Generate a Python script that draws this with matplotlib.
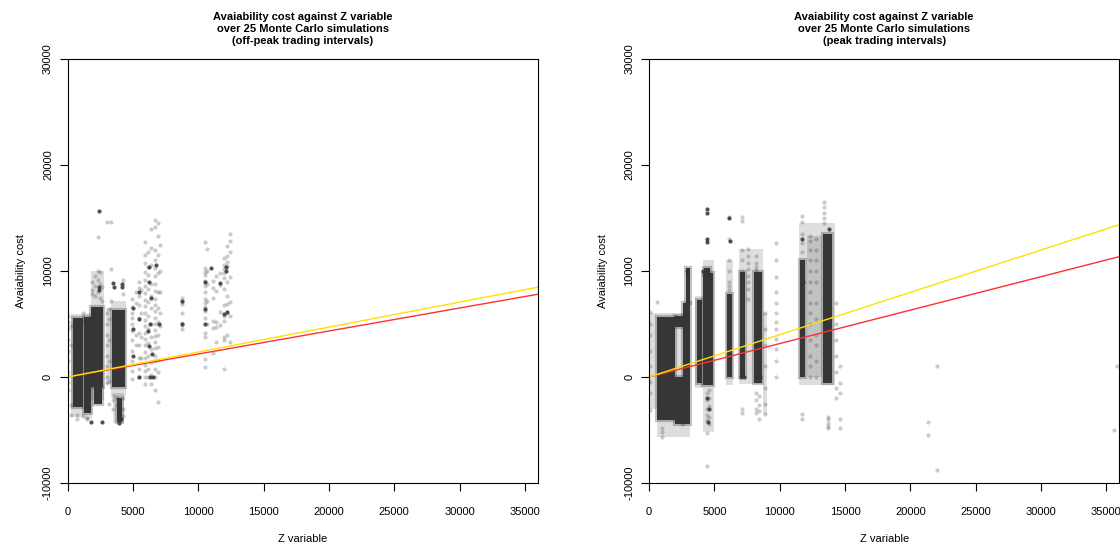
import numpy as np
import matplotlib.pyplot as plt
plt.rcParams['font.family'] = ['Liberation Sans', 'DejaVu Sans']
plt.rcParams.update({'font.size': 8})

titles = ['Avaiability cost against Z variable\nover 25 Monte Carlo simulations\n(off-peak trading intervals)',
          'Avaiability cost against Z variable\nover 25 Monte Carlo simulations\n(peak trading intervals)']
x_ticks = [0, 5000, 10000, 15000, 20000, 25000, 30000, 35000]
y_ticks = [-10000, 0, 10000, 20000, 30000]

# fitted lines: (intercept, slope) for red and yellow fits
left_fit_red = (0, 0.217)
left_fit_yellow = (0, 0.2355)
right_fit_red = (0, 0.3156)
right_fit_yellow = (0, 0.3995)

# dense blocks of overplotted points: x_lo, x_hi, y_lo, y_hi
left_dense = [(420, 1180, -2800, 5600), (1280, 1760, -3400, 5700), (1820, 2740, -900, 6600),
              (2000, 2600, -2500, -900), (3380, 4400, -900, 6300), (3750, 4150, -4200, -2000)]
left_haze = [(300, 1250, -3800, 5900), (1250, 1850, -4000, 6000), (1800, 2800, -2200, 10000),
             (2950, 3300, -700, 6500), (3300, 4500, -1800, 7200), (3500, 4300, -4300, -1500)]
right_dense = [(590, 1990, -4100, 5700), (1990, 2600, 4700, 5800), (1990, 2600, -4400, 0),
               (2600, 3140, -4400, 7000), (2850, 3140, 7000, 10300),
               (3650, 4030, -600, 7300), (4130, 4900, -800, 9800), (4200, 4700, 9600, 10300),
               (5960, 6350, 0, 7800), (6960, 7340, 0, 9900), (8030, 8650, -600, 9900),
               (11550, 11930, 0, 11000), (13300, 14000, -600, 13500)]
right_haze = [(0, 590, -3000, 6000), (590, 3140, -5700, 6000), (3500, 4100, -1000, 7600),
              (4100, 5000, -5200, 11000), (5900, 6400, -800, 11000), (6900, 8700, -700, 12100),
              (8700, 9050, -3500, 6000), (11500, 14200, -800, 14500), (12090, 13230, 0, 13300)]

# scattered points: column x, list of y
left_sparse = [
    (60, [5800, 5200, 4500, 3500, 2500, 1500, 500, -500, -1200]),
    (300, [4800, 3000, -2600, -3600]), (700, [-3600, -4000]), (1200, [-3700, 6000, 5300]),
    (1500, [-4000, -3900]), (1900, [7800, 8200, 9000]), (2100, [7600, 8600, 9500]),
    (2300, [8000, 9200, 10000, 13200]), (2450, [7500, 8800, 9900]), (2600, [7200, 8500]),
    (3000, [14600, 6000, 5000, 4000, 3000, 2000, 1000, 0, -600]),
    (3150, [6400, 5500, 3500, 1500, -400, -2500]), (3300, [14600, 10200, 7200]),
    (3500, [-1800, -2200, -3000]), (3800, [-2000, -2600]), (4250, [-2000, -3000, -3700, 9200, 7800]),
    (4900, [7400, 6600, 6000, 5000, 4300, 3500, 2500, 1500, 600, -200, 5600]),
    (5250, [8000, 7000, 4000, 3000]),
    (5500, [9000, 8400, 7600, 6800, 5600, 4200, 3000, 1800, 800, 0]),
    (5650, [8200, 6000, 3800, 1800]),
    (5950, [12700, 11500, 10800, 9900, 9200, 8600, 7900, 7300, 6700, 6000, 5400, 4800, 4200,
            3600, 3000, 2400, 1800, 1100, 600, 0, -700]),
    (6150, [11800, 10400, 9600, 8300, 7100, 5800, 4500, 3200, 2000, 800, 0]),
    (6400, [14000, 12200, 10600, 8800, 7600, 6500, 5000, 3800, 2600, 1400, 200, -700]),
    (6700, [14800, 14200, 12000, 11000, 10300, 9500, 8800, 8100, 7400, 6800, 6200, 5600, 5000,
            4400, 3900, 3300, 2700, 2000, 1500, 800, 0, -1200]),
    (6900, [14500, 13300, 11500, 9800, 8000, 6500, 5200, 4000, 2800, 1600, 500, -2400]),
    (7050, [12500, 10000, 8000, 6000, 4800]),
    (8750, [7500, 7100, 6900, 6000, 5100, 4900, 4500]),
    (10500, [12700, 10300, 9900, 9600, 9100, 8600, 8000, 7400, 7000, 6600, 6200, 5600, 4200,
             3800, 1700, 900]),
    (10700, [12100, 10000, 8800, 7200, 5000]),
    (11100, [9100, 8400, 7500, 5300, 4600, 2300]), (11400, [9500, 8100, 5200, 4700, 3300]),
    (11700, [9800, 8700, 6100, 4900]),
    (12000, [11200, 10600, 10200, 9800, 9300, 8300, 6800, 5800, 5300, 3800, 3500, 800]),
    (12200, [12400, 11400, 10900, 10500, 9000, 7600, 6900, 6000, 4000]),
    (12450, [13500, 12800, 11800, 9400, 7100, 5800, 3300]),
]
left_dark_x = [2430, 2400, 2400, 1800, 2600, 3950, 4100, 3550, 3500, 4150, 4150, 5000, 5000, 5000,
               5450, 5450, 6200, 6200, 6400, 6300, 6200, 6500, 6300, 6550, 5450, 6800, 7000,
               10500, 10500, 10500, 12100, 12150, 11650, 12200, 12000, 11000, 8750, 8750, 6150]
left_dark_y = [15700, 8500, 8200, -4200, -4200, -4300, -4000, 8500, 8900, 8500, 8800, 6500, 4500, 2000,
               8000, 5500, 10400, 9000, 7500, 5000, 2900, 2200, 0, 0, 0, 10600, 5000,
               6400, 5000, 9000, 10400, 10000, 8900, 6100, 5900, 10300, 7200, 5000, 4300]

right_sparse = [
    (50, [6100, 5000, 4000, 2500, 1000, -500, -1500, -3100]), (600, [7100]),
    (1000, [-5700, -5200, -4800]), (4400, [-1500, -2200, -3000, -3600, -4100, -5300, -8400]),
    (4600, [-1200, -2000, -2700, -3800, -4400]),
    (6150, [15100, 13000, 11000, 10000, 9000, 8600, 8200]),
    (7100, [15100, 14700, 12000, 11000, 10000, -3000, -3400]),
    (7600, [12100, 11400, 10800, 10200, 9500, 9000, 8300, 7400]),
    (8200, [11400, 10800, 10400, 10100, -1500, -2200, -3400, -3000]),
    (8400, [-1800, -2600, -4000, -3200]),
    (8900, [6000, 4500, 3000, 1000, -1000, -2500, -3500]),
    (9700, [12600, 11000, 9400, 8000, 7000, 6000, 5200, 4500, 3600, 2600, 1500, 0]),
    (11700, [15200, 14600, 13500, 12600, 11800, -4000, -3500]),
    (12300, [13300, 12800, 12000, 11000, 10000, 9000, 8000, 7000, 6000, 5000, 3500, 2000, 1000, 0]),
    (12800, [13000, 12000, 11000, 10000, 9000, 7000, 5500, 4000, 3000, 1500, 0]),
    (13400, [16500, 16000, 15500, 15000, 14500]),
    (13700, [-4000, -4300, -4600, -4800, -3800]),
    (14300, [7000, 5000, 3500, 2000, 500, -1000, -2000]),
    (14600, [-4000, -4800, -600, -1500, 1000]),
    (21370, [-4290, -5490]), (22060, [1020, -8800]), (35550, [-5010]), (35800, [1020]),
]
right_dark_x = [2900, 4150, 4450, 4450, 4450, 4450, 4400, 4600, 4500, 7000, 7300, 8300, 8500,
                11700, 11800, 13500, 13800, 13600, 6100, 6200]
right_dark_y = [10000, 10000, 15900, 15500, 13000, 12700, -2000, -3000, -4200, 0, 0, 0, 0,
                13000, 9000, 0, 14000, 12500, 15000, 12800]

fig = plt.figure(figsize=(11.2, 5.47), dpi=100)
ax_l = fig.add_axes([0.0603, 0.117, 0.420, 0.775])
ax_r = fig.add_axes([0.5795, 0.117, 0.420, 0.775])

panels = [(ax_l, left_dense, left_haze, left_sparse, left_dark_x, left_dark_y, left_fit_red, left_fit_yellow),
          (ax_r, right_dense, right_haze, right_sparse, right_dark_x, right_dark_y, right_fit_red, right_fit_yellow)]

for i, (ax, dense, haze, sparse, dx, dy, fit_r, fit_y) in enumerate(panels):
    for x0, x1, y0, y1 in haze:
        ax.bar(x0, y1 - y0, bottom=y0, width=x1 - x0, align='edge', color='#333333', alpha=0.16, lw=0)
    # soft fringe first, solid cores drawn over it
    for x0, x1, y0, y1 in dense:
        ax.bar(x0, y1 - y0, bottom=y0, width=x1 - x0, align='edge', facecolor='none',
               edgecolor='#333333', alpha=0.3, lw=3)
    for x0, x1, y0, y1 in dense:
        ax.bar(x0, y1 - y0, bottom=y0, width=x1 - x0, align='edge', color='#363636', lw=0)
    sx = [c for c, ys in sparse for _ in ys]
    sy = [y for c, ys in sparse for y in ys]
    ax.scatter(sx, sy, s=9, color='#333333', alpha=0.25, lw=0)
    ax.scatter(dx, dy, s=9, color='#333333', alpha=0.85, lw=0)
    ax.axline((0, fit_r[0]), slope=fit_r[1], color='#ff3030', lw=1)
    ax.axline((0, fit_y[0]), slope=fit_y[1], color='#ffe000', lw=1)

    ax.set_xlim(0, 36000)
    ax.set_ylim(-10000, 30000)
    ax.set_xticks(x_ticks)
    ax.set_xticklabels([str(v) for v in x_ticks])
    ax.set_yticks(y_ticks)
    ax.set_yticklabels([str(v) for v in y_ticks], rotation=90, va='center')
    ax.tick_params(length=5.5, width=0.8, pad=5)
    ax.tick_params(axis='x', pad=12)
    for s in ax.spines.values():
        s.set_linewidth(0.8)
    ax.set_title(titles[i], fontsize=8, fontweight='bold', linespacing=1.25, pad=11)
    ax.set_xlabel('Z variable', labelpad=12)
    ax.set_ylabel('Avaiability cost', labelpad=12)

fig.savefig('out.png', dpi=100)
